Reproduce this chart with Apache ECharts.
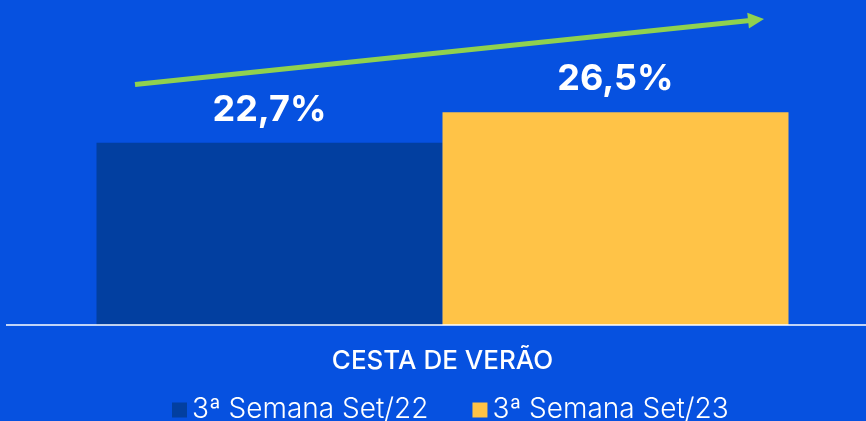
<!DOCTYPE html>
<html>
<head>
<meta charset="utf-8">
<script src="https://cdn.jsdelivr.net/npm/echarts@6/dist/echarts.min.js"></script>
<style>
  html, body { margin: 0; padding: 0; background: #0651e0; }
  #main { width: 866px; height: 421px; }
</style>
</head>
<body>
<div id="main"></div>
<script>
const categories = ['CESTA DE VERÃO'];
const seriesNames = ['3ª Semana Set/22', '3ª Semana Set/23'];
const values22 = [22.7];
const values23 = [26.5];
const seriesColors = ['#023fa0', '#ffc347'];

const chart = echarts.init(document.getElementById('main'));

const fmtPct = (p) => p.value.toFixed(1).replace('.', ',') + '%';

const barLabel = {
  show: true,
  position: 'top',
  distance: 15,
  color: '#fff',
  fontFamily: 'Inter',
  fontWeight: 'bold',
  fontSize: 36,
  formatter: fmtPct,
};

// seta verde de tendência (decoração)
const arrowStart = [135, 84.5];
const arrowTip = [764, 19];
const dx = arrowTip[0] - arrowStart[0];
const dy = arrowTip[1] - arrowStart[1];
const len = Math.sqrt(dx * dx + dy * dy);
const ux = dx / len, uy = dy / len;
const headLen = 16, headHalf = 8;
const bx = arrowTip[0] - headLen * ux, by = arrowTip[1] - headLen * uy;

const option = {
  backgroundColor: '#0651e0',
  animation: false,
  grid: { left: 19, right: 0, top: 4, bottom: 96 },
  legend: {
    left: 167,
    top: 391,
    itemWidth: 15,
    itemHeight: 15,
    itemGap: 44,
    icon: 'rect',
    textStyle: {
      color: '#fff',
      fontFamily: 'Inter',
      fontWeight: 300,
      fontSize: 28,
    },
    data: seriesNames,
  },
  xAxis: {
    type: 'category',
    data: categories,
    axisLine: { show: false },
    axisTick: { show: false },
    axisLabel: {
      margin: 23,
      color: '#fff',
      fontFamily: 'Inter',
      fontWeight: 500,
      fontSize: 26,
    },
  },
  yAxis: {
    type: 'value',
    min: 0,
    max: 40,
    show: false,
  },
  graphic: [
    {
      type: 'line',
      shape: { x1: 6, y1: 325, x2: 866, y2: 325 },
      style: { stroke: '#fff', lineWidth: 1.5 },
      z: 10,
    },
    {
      type: 'line',
      shape: { x1: arrowStart[0], y1: arrowStart[1], x2: bx + 2 * ux, y2: by + 2 * uy },
      style: { stroke: '#8fd14f', lineWidth: 5 },
    },
    {
      type: 'polygon',
      shape: {
        points: [
          arrowTip,
          [bx - headHalf * uy, by + headHalf * ux],
          [bx + headHalf * uy, by - headHalf * ux],
        ],
      },
      style: { fill: '#8fd14f' },
    },
  ],
  series: [
    {
      name: seriesNames[0],
      type: 'bar',
      data: values22,
      barWidth: 346,
      barGap: '0%',
      itemStyle: { color: seriesColors[0] },
      label: barLabel,
    },
    {
      name: seriesNames[1],
      type: 'bar',
      data: values23,
      barWidth: 346,
      itemStyle: { color: seriesColors[1] },
      label: barLabel,
    },
  ],
};

chart.setOption(option);
</script>
</body>
</html>
